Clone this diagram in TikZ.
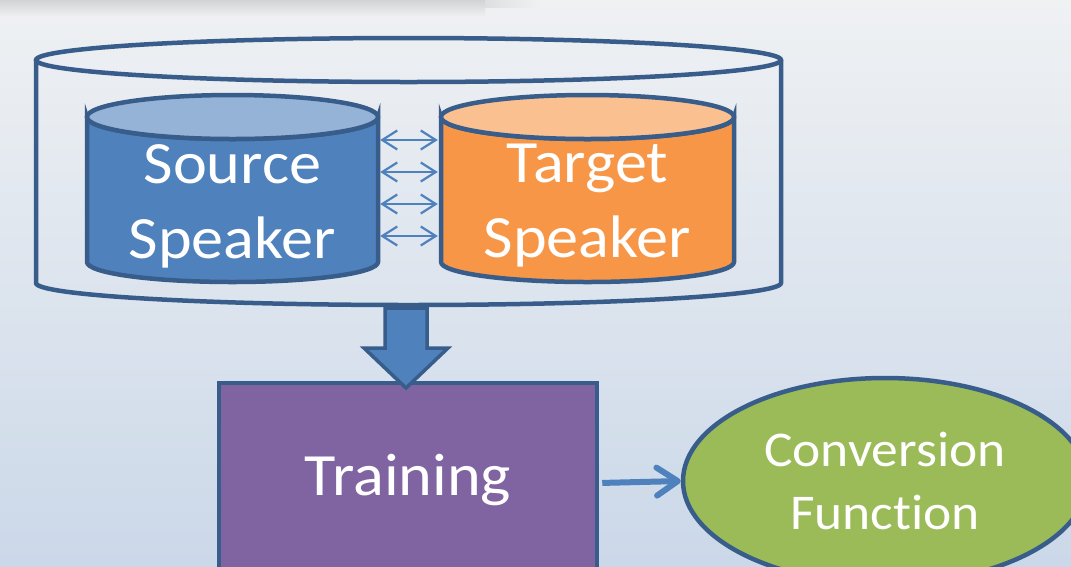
\documentclass[tikz,border=0pt]{standalone}
\usepackage{fontspec}
\setmainfont{Carlito}[Ligatures=NoCommon,FakeStretch=1.07]
\usetikzlibrary{arrows.meta,shapes.geometric}

\definecolor{bgtop}{HTML}{EFF1F3}
\definecolor{bgbot}{HTML}{CBD8E9}
\definecolor{shadowgray}{HTML}{D2D3D5}
\definecolor{edge}{HTML}{385D8A}
\definecolor{blueA}{HTML}{4F81BD}
\definecolor{blueB}{HTML}{95B3D7}
\definecolor{orangeA}{HTML}{F79646}
\definecolor{orangeB}{HTML}{FAC090}
\definecolor{purpleA}{HTML}{8064A2}
\definecolor{greenA}{HTML}{9BBB59}

\begin{document}
\begin{tikzpicture}[x=1pt,y=-1pt,
  outline/.style={draw=edge,line width=4.5pt},
  cyltext/.style={text=white,font=\fontsize{60}{75}\selectfont,align=center,inner sep=0pt},
  link/.style={draw=blueA,line width=2.2pt,
    {Straight Barb[length=15pt,width=19pt]}-{Straight Barb[length=15pt,width=19pt]}},
  flowbox/.style={draw=edge,line width=4.5pt,inner sep=0pt,text=white}]
\useasboundingbox (0,0) rectangle (1071,566);
\clip (0,0) rectangle (1071,566);

% background with the soft shadow of a title bar
\shade[top color=bgtop,bottom color=bgbot] (0,0) rectangle (1071,566);
\shade[top color=shadowgray,bottom color=bgtop] (0,0) rectangle (485,17);
\shade[left color=bgtop!40!shadowgray,right color=bgtop] (485,0) rectangle (540,7);

% outer database
\draw[outline] (36,60) -- (36,283) arc[start angle=180,end angle=0,x radius=372.5,y radius=22] -- (781,60);
\draw[outline] (408.5,60) ellipse[x radius=372.5,y radius=22];

% source speaker cylinder
\filldraw[outline,fill=blueA] (87,117) -- (87,262)
  arc[start angle=180,end angle=0,x radius=145.5,y radius=20] -- (378,117)
  arc[start angle=0,end angle=180,x radius=145.5,y radius=22] -- cycle;
\filldraw[outline,fill=blueB] (232.5,117) ellipse[x radius=145.5,y radius=22];
\node[cyltext,minimum width=295pt] (src) at (232.5,206) {Source\\Speaker};

% target speaker cylinder
\filldraw[outline,fill=orangeA] (441,117) -- (441,262)
  arc[start angle=180,end angle=0,x radius=146.5,y radius=20] -- (734,117)
  arc[start angle=0,end angle=180,x radius=146.5,y radius=22] -- cycle;
\filldraw[outline,fill=orangeB] (587.5,117) ellipse[x radius=146.5,y radius=22];
\node[cyltext,minimum width=297pt] (tgt) at (587.5,206) {Target\\Speaker};

% frame alignment links
\foreach \dy in {66,34,2,-30}
  \draw[link,shorten >=1pt] ([yshift=\dy pt]src.east) -- ([yshift=\dy pt]tgt.west);

% training block and output
\node[flowbox,fill=purpleA,minimum width=378pt,minimum height=200pt,
  text height=40pt,text depth=16pt,
  font=\fontsize{60}{72}\selectfont] (train) at (408,483) {Training};
\node[flowbox,ellipse,fill=greenA,minimum width=404pt,minimum height=206pt,
  align=center,font=\fontsize{50}{63}\selectfont] (conv) at (885,481) {Conversion\\Function};

% block arrow from the database into training
\filldraw[draw=edge,line width=3.5pt,fill=blueA,line join=miter]
  (385,308) -- (427,308) -- (427,348) -- (448,348) -- (406,388) -- (364,348) -- (385,348) -- cycle;

\draw[draw=blueA,line width=6pt,shorten <=3pt,
  -{Straight Barb[round,length=21pt,width=28pt]}] (train.east) -- (conv.west);
\end{tikzpicture}
\end{document}
